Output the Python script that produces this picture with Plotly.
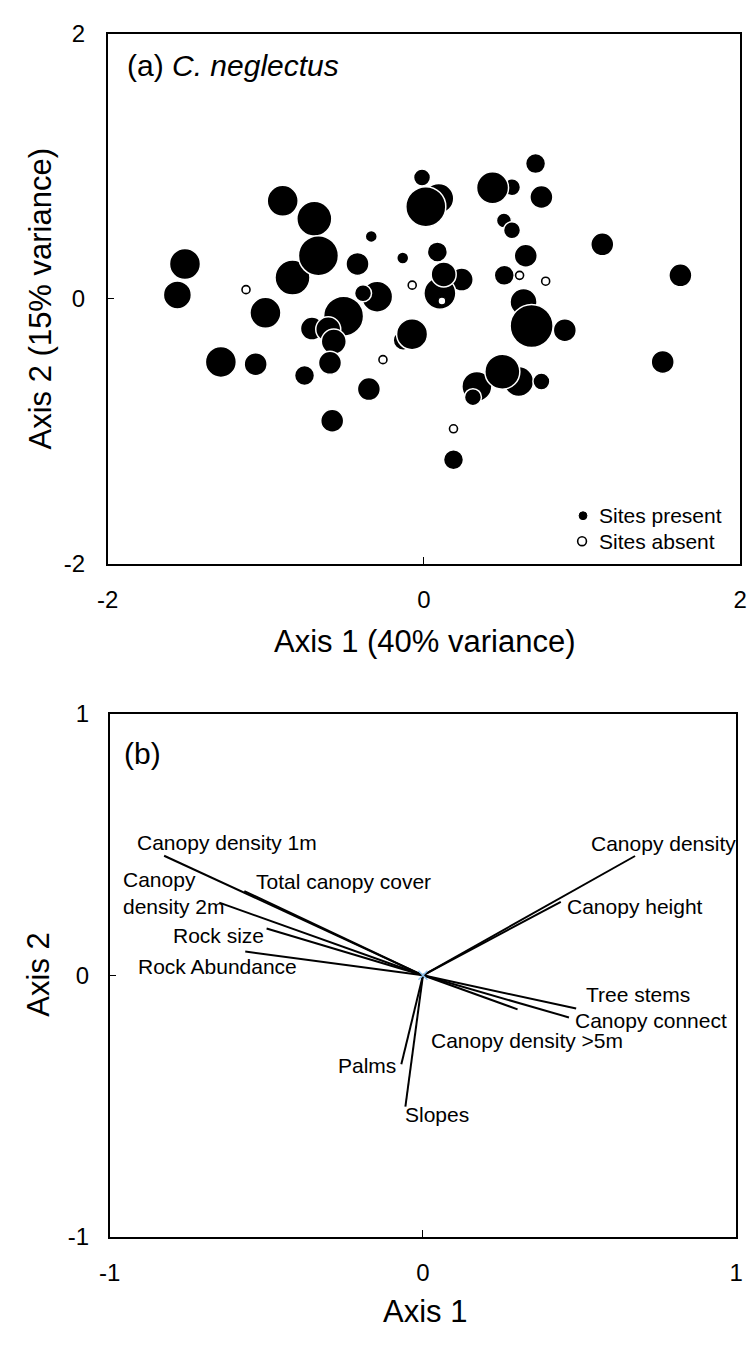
import plotly.graph_objects as go

W, H = 755, 1345
FONT = "Liberation Sans, Arial, sans-serif"

# ---------------- Panel (a): site scores ----------------
present_x = [0.094, 0.557, -0.131, 0.599, 0.335, 0.891, 0.630, 0.239, 0.101, -0.296,
             -0.831, -0.693, -0.508, -0.708, 0.506,
             -0.893, -0.667, -1.511, -1.559, -0.333, -0.420, -0.134, 0.012, -0.012,
             -0.385, -1.002, -0.605, -0.570, -0.075, -1.284, -1.064, -0.755, -0.594,
             -0.348, -0.580, 0.706, 0.434, 0.743, 0.557, 1.128, 1.622, 0.085, 0.125,
             0.644, 0.508, 0.681, 1.510, 0.496, 0.743, 0.310, 0.187]
present_y = [0.756, 0.841, -0.314, -0.625, -0.662, -0.238, -0.026, 0.144, 0.041, 0.015,
             0.159, 0.603, -0.132, -0.226, 0.590,
             0.738, 0.324, 0.262, 0.028, 0.470, 0.262, 0.307, 0.694, 0.915,
             0.041, -0.107, -0.231, -0.324, -0.268, -0.477, -0.494, -0.580, -0.484,
             -0.682, -0.921, 1.019, 0.837, 0.767, 0.516, 0.410, 0.176, 0.353, 0.183,
             0.324, 0.176, -0.206, -0.477, -0.551, -0.625, -0.743, -1.216]
present_size = [30, 17, 20, 30, 30, 23, 27, 23, 32, 31,
                35, 35, 40, 23, 15,
                31, 40, 31, 28, 12, 23, 12, 40, 17,
                17, 31, 25, 25, 31, 31, 23, 20, 23,
                23, 23, 20, 32, 23, 17, 23, 23, 20, 25,
                23, 20, 43, 23, 35, 17, 17, 20]

absent_x = [-1.125, -0.074, -0.259, 0.605, 0.770, 0.187, 0.114]
absent_y = [0.068, 0.102, -0.460, 0.176, 0.132, -0.982, -0.018]

tick_vals_a = [-2, 0, 2]
tick_text_a = ["-2", "0", "2"]

# ---------------- Panel (b): variable vectors ----------------
var_names = ["Canopy density 1m", "Total canopy cover", "Canopy<br>density 2m",
             "Rock size", "Rock Abundance", "Canopy density", "Canopy height",
             "Tree stems", "Canopy connect", "Canopy density >5m", "Palms", "Slopes"]
var_x = [-0.826, -0.570, -0.650, -0.499, -0.567, 0.677, 0.440, 0.489, 0.466, 0.302, -0.069, -0.056]
var_y = [0.457, 0.322, 0.278, 0.179, 0.091, 0.456, 0.281, -0.127, -0.161, -0.130, -0.340, -0.502]

# label placement (data units) and anchors
lab_x = [-0.625, -0.255, -0.964, -0.654, -0.915, 0.768, 0.454, 0.513, 0.479, 0.0196, -0.079, -0.065]
lab_y = [0.509, 0.360, 0.316, 0.151, 0.035, 0.503, 0.263, -0.074, -0.171, -0.248, -0.346, -0.532]
lab_anchor = ["center", "center", "left", "center", "left", "center", "left",
              "left", "left", "left", "right", "left"]

tick_vals_b = [-1, 0, 1]
tick_text_b = ["-1", "0", "1"]

fig = go.Figure()

fig.add_trace(go.Scatter(
    x=present_x, y=present_y, mode="markers", xaxis="x", yaxis="y",
    marker=dict(size=present_size, color="black", opacity=1,
                line=dict(color="white", width=1.5)),
    showlegend=False, hoverinfo="skip"))
fig.add_trace(go.Scatter(
    x=absent_x, y=absent_y, mode="markers", xaxis="x", yaxis="y",
    marker=dict(size=8, color="white", opacity=1, line=dict(color="black", width=1.6)),
    showlegend=False, hoverinfo="skip"))

# vectors
lx, ly = [], []
for vx, vy in zip(var_x, var_y):
    lx += [0, vx, None]
    ly += [0, vy, None]
fig.add_trace(go.Scatter(
    x=lx, y=ly, mode="lines", xaxis="x2", yaxis="y2",
    line=dict(color="black", width=2), showlegend=False, hoverinfo="skip"))
fig.add_trace(go.Scatter(
    x=[0], y=[0], mode="markers", xaxis="x2", yaxis="y2",
    marker=dict(symbol="x-thin", size=9, line=dict(color="#8ec5f0", width=1.5)),
    showlegend=False, hoverinfo="skip"))

annotations = []
for name, x, y, anc in zip(var_names, lab_x, lab_y, lab_anchor):
    annotations.append(dict(text=name, x=x, y=y, xref="x2", yref="y2",
                            xanchor=anc, yanchor="middle", align="left",
                            showarrow=False, font=dict(size=21, color="black", family=FONT)))

def px_x(p):
    return p / W

def px_y(p):
    return 1 - p / H

# panel labels
annotations.append(dict(text="(a) <i>C. neglectus</i>", x=px_x(117), y=px_y(53), xref="paper", yref="paper",
                        xanchor="left", yanchor="middle", showarrow=False,
                        font=dict(size=30, color="black", family=FONT)))
annotations.append(dict(text="(b)", x=px_x(114), y=px_y(755), xref="paper", yref="paper",
                        xanchor="left", yanchor="middle", showarrow=False,
                        font=dict(size=30, color="black", family=FONT)))
# axis titles
annotations.append(dict(text="Axis 1 (40% variance)", x=px_x(424), y=px_y(640), xref="paper", yref="paper",
                        xanchor="center", yanchor="middle", showarrow=False,
                        font=dict(size=31, color="black", family=FONT)))
annotations.append(dict(text="Axis 2 (15% variance)", x=px_x(30), y=px_y(290), xref="paper", yref="paper",
                        xanchor="center", yanchor="middle", showarrow=False, textangle=-90,
                        font=dict(size=31, color="black", family=FONT)))
annotations.append(dict(text="Axis 1", x=px_x(424), y=px_y(1324), xref="paper", yref="paper",
                        xanchor="center", yanchor="middle", showarrow=False,
                        font=dict(size=31, color="black", family=FONT)))
annotations.append(dict(text="Axis 2", x=px_x(28), y=px_y(980), xref="paper", yref="paper",
                        xanchor="center", yanchor="middle", showarrow=False, textangle=-90,
                        font=dict(size=31, color="black", family=FONT)))
# legend text
annotations.append(dict(text="Sites present", x=px_x(600), y=px_y(512), xref="paper", yref="paper",
                        xanchor="left", yanchor="middle", showarrow=False,
                        font=dict(size=21, color="black", family=FONT)))
annotations.append(dict(text="Sites absent", x=px_x(600), y=px_y(538), xref="paper", yref="paper",
                        xanchor="left", yanchor="middle", showarrow=False,
                        font=dict(size=21, color="black", family=FONT)))

shapes = [
    dict(type="circle", xref="paper", yref="paper",
         x0=px_x(582), x1=px_x(590), y0=px_y(516), y1=px_y(508),
         fillcolor="black", line=dict(color="black", width=1)),
    dict(type="circle", xref="paper", yref="paper",
         x0=px_x(580.5), x1=px_x(589.5), y0=px_y(542.5), y1=px_y(533.5),
         fillcolor="white", line=dict(color="black", width=1.6)),
]

axis_common = dict(showgrid=False, zeroline=False, showline=True, mirror=True,
                   linecolor="black", linewidth=1.5, ticks="inside", ticklen=7,
                   tickcolor="black", tickwidth=1,
                   tickfont=dict(size=24, color="black", family=FONT))

fig.update_layout(
    width=W, height=H, margin=dict(l=0, r=0, t=0, b=0),
    paper_bgcolor="white", plot_bgcolor="white",
    showlegend=False,
    xaxis=dict(domain=[99 / W, 747 / W], range=[-2, 2], tickvals=tick_vals_a, ticktext=tick_text_a,
               anchor="y", ticklabelstandoff=14, **axis_common),
    yaxis=dict(domain=[px_y(561), px_y(20)], range=[-2, 2], tickvals=tick_vals_a, ticktext=tick_text_a,
               anchor="x", ticklabelstandoff=16, **axis_common),
    xaxis2=dict(domain=[101 / W, 743 / W], range=[-1, 1], tickvals=tick_vals_b, ticktext=tick_text_b,
                anchor="y2", ticklabelstandoff=14, **axis_common),
    yaxis2=dict(domain=[px_y(1248), px_y(714)], range=[-1, 1], tickvals=tick_vals_b, ticktext=tick_text_b,
                anchor="x2", ticklabelstandoff=14, **axis_common),
    annotations=annotations,
    shapes=shapes,
)

fig.write_html("out.html")
